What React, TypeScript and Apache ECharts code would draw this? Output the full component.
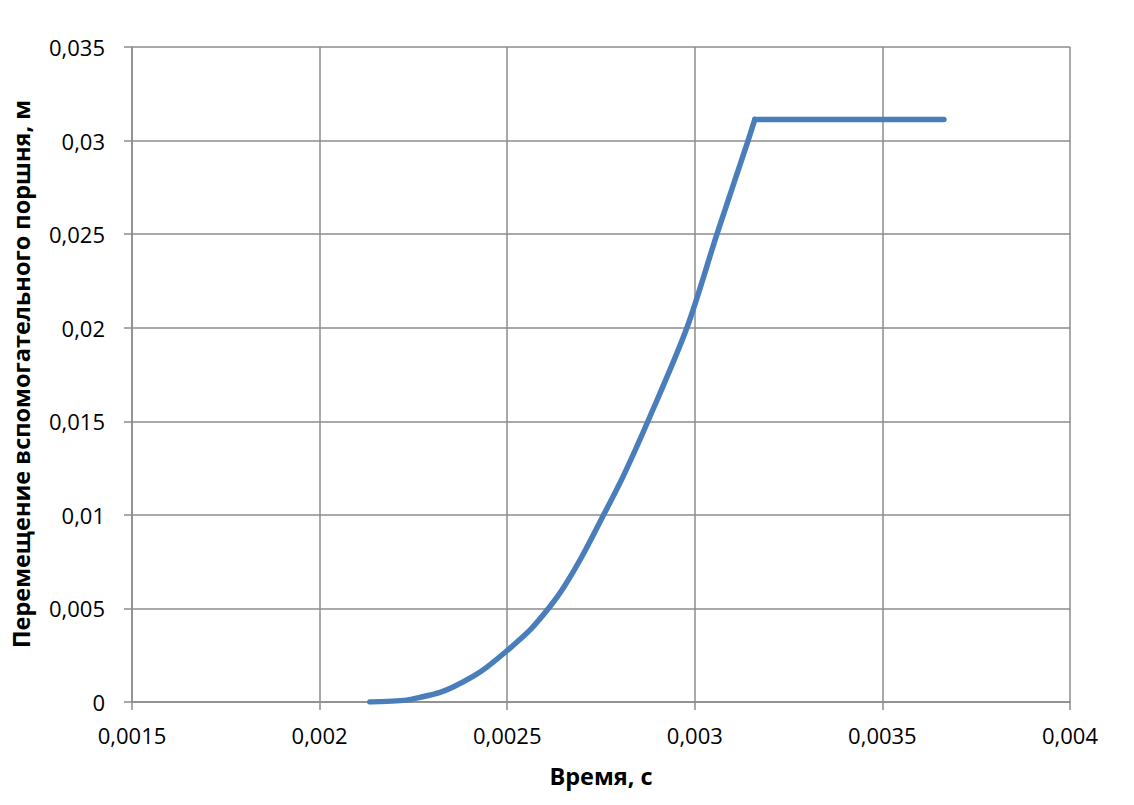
import React, { useEffect, useRef } from 'react';
import * as echarts from 'echarts';

// время, с — участок подъёма
const riseTime = [
  0.002134, 0.002232, 0.002268, 0.002321, 0.002356, 0.00241, 0.002445, 0.0025,
  0.002561, 0.002614, 0.00265, 0.0027, 0.002757, 0.00281, 0.002875, 0.002979,
  0.003059, 0.003142, 0.00316,
];
// перемещение вспомогательного поршня, м — участок подъёма
const riseDisplacement = [
  0, 0.0001, 0.00025, 0.00052, 0.0008, 0.00138, 0.00185, 0.00275,
  0.00385, 0.0051, 0.0061, 0.0078, 0.01, 0.0121, 0.015, 0.02,
  0.025, 0.03, 0.03113,
];
// участок постоянного значения
const plateauTime = [0.00316, 0.003664];
const plateauDisplacement = [0.03113, 0.03113];

const fmt = (v: number) => String(Number(v.toFixed(6))).replace('.', ',');

const App: React.FC = () => {
  const chartRef = useRef<HTMLDivElement>(null);

  useEffect(() => {
    if (!chartRef.current) return;
    document.body.style.margin = '0';
    const chart = echarts.init(chartRef.current, undefined, { renderer: 'svg' });
    const font = '"Open Sans", "Noto Sans", sans-serif';
    const gridColor = '#8c8c8c';
    const lineColor = '#4a7ebb';

    chart.setOption({
      animation: false,
      backgroundColor: '#ffffff',
      textStyle: { fontFamily: font },
      grid: { left: 132, right: 64, top: 47, bottom: 103 },
      graphic: [
        {
          type: 'text',
          x: 21,
          y: 374,
          rotation: Math.PI / 2,
          style: {
            text: 'Перемещение вспомогательного поршня, м',
            fontSize: 23.5,
            fontWeight: 'bold',
            fontFamily: font,
            fill: '#000',
            align: 'center',
            verticalAlign: 'middle',
          },
        },
      ],
      xAxis: {
        type: 'value',
        min: 0.0015,
        max: 0.004,
        interval: 0.0005,
        name: 'Время, с',
        nameLocation: 'middle',
        nameGap: 62,
        nameTextStyle: { fontSize: 23.5, fontWeight: 'bold', color: '#000', fontFamily: font },
        axisLine: { show: true, onZero: false, lineStyle: { color: gridColor, width: 1.5 } },
        axisTick: { show: true, length: 8, lineStyle: { color: gridColor, width: 1.5 } },
        axisLabel: { formatter: fmt, fontSize: 22, color: '#000', margin: 22, fontFamily: font },
        splitLine: { show: true, lineStyle: { color: gridColor, width: 1.5 } },
      },
      yAxis: {
        type: 'value',
        min: 0,
        max: 0.035,
        interval: 0.005,
        axisLine: { show: true, lineStyle: { color: gridColor, width: 1.5 } },
        axisTick: { show: true, length: 8, lineStyle: { color: gridColor, width: 1.5 } },
        axisLabel: { formatter: fmt, fontSize: 22, color: '#000', margin: 27, fontFamily: font },
        splitLine: { show: true, lineStyle: { color: gridColor, width: 1.5 } },
      },
      series: [
        {
          type: 'line',
          data: riseTime.map((t, i) => [t, riseDisplacement[i]]),
          smooth: 0.3,
          showSymbol: false,
          lineStyle: { color: lineColor, width: 5.5, cap: 'round', join: 'round' },
        },
        {
          type: 'line',
          data: plateauTime.map((t, i) => [t, plateauDisplacement[i]]),
          showSymbol: false,
          lineStyle: { color: lineColor, width: 5.5, cap: 'round' },
        },
      ],
    });

    return () => {
      chart.dispose();
    };
  }, []);

  return <div ref={chartRef} style={{ width: 1134, height: 805 }} />;
};

export default App;
